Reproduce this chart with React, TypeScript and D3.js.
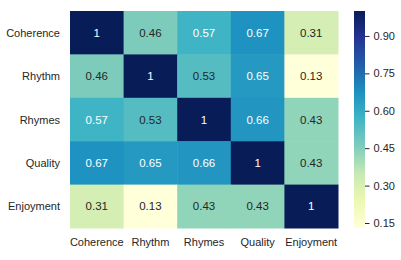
import * as d3 from 'd3';
import React, { useRef, useEffect } from 'react';

const labels = ['Coherence', 'Rhythm', 'Rhymes', 'Quality', 'Enjoyment'];
const coherence = [1, 0.46, 0.57, 0.67, 0.31];
const rhythm = [0.46, 1, 0.53, 0.65, 0.13];
const rhymes = [0.57, 0.53, 1, 0.66, 0.43];
const quality = [0.67, 0.65, 0.66, 1, 0.43];
const enjoyment = [0.31, 0.13, 0.43, 0.43, 1];
const barTicks = [0.15, 0.3, 0.45, 0.6, 0.75, 0.9];

// matplotlib YlGnBu stops
const stops = ['#ffffd9', '#edf8b1', '#c7e9b4', '#7fcdbb', '#41b6c4', '#1d91c0', '#225ea8', '#253494', '#081d58'];

const width = 401;
const height = 260;

function Heatmap() {
    const ref = useRef<SVGSVGElement>(null);

    useEffect(() => {
        const svg = d3.select(ref.current);
        svg.selectAll('*').remove();

        const rows = [coherence, rhythm, rhymes, quality, enjoyment];
        const vmin = 0.13, vmax = 1;
        const left = 70, top = 11, right = 338, bottom = 228;
        const font = 'Liberation Sans, Arial, sans-serif';
        const textColor = '#262626';

        const x = d3.scaleBand().domain(labels).range([left, right]);
        const y = d3.scaleBand().domain(labels).range([top, bottom]);
        const t = d3.scaleLinear().domain([vmin, vmax]).range([0, 1]).clamp(true);
        const ramp = d3.scaleLinear<string>()
            .domain(d3.range(stops.length).map(i => i / (stops.length - 1)))
            .range(stops)
            .interpolate(d3.interpolateRgb);
        const color = (v: number) => ramp(t(v));

        // relative luminance, same rule seaborn uses to pick annotation colour
        const lum = (c: string) => {
            const rgb = d3.rgb(c);
            const f = (u: number) => {
                u = u / 255;
                return u <= 0.03928 ? u / 12.92 : Math.pow((u + 0.055) / 1.055, 2.4);
            };
            return 0.2126 * f(rgb.r) + 0.7152 * f(rgb.g) + 0.0722 * f(rgb.b);
        };

        const cells = rows.flatMap((r, i) => r.map((v, j) => ({ row: labels[i], col: labels[j], v })));

        svg.append('g').selectAll('rect')
            .data(cells)
            .enter()
            .append('rect')
            .attr('x', d => x(d.col)!)
            .attr('y', d => y(d.row)!)
            .attr('width', x.bandwidth() + 0.5)
            .attr('height', y.bandwidth() + 0.5)
            .attr('fill', d => color(d.v));

        svg.append('g').selectAll('text')
            .data(cells)
            .enter()
            .append('text')
            .attr('x', d => x(d.col)! + x.bandwidth() / 2)
            .attr('y', d => y(d.row)! + y.bandwidth() / 2)
            .attr('text-anchor', 'middle')
            .attr('dominant-baseline', 'central')
            .attr('font-family', font)
            .attr('font-size', 11.5)
            .attr('fill', d => (lum(color(d.v)) > 0.408 ? textColor : '#ffffff'))
            .text(d => d3.format('.2~g')(d.v));

        // row labels
        svg.append('g').selectAll('text')
            .data(labels)
            .enter()
            .append('text')
            .attr('x', left - 10)
            .attr('y', d => y(d)! + y.bandwidth() / 2)
            .attr('text-anchor', 'end')
            .attr('dominant-baseline', 'central')
            .attr('font-family', font)
            .attr('font-size', 11)
            .attr('fill', textColor)
            .text(d => d);

        // column labels
        svg.append('g').selectAll('text')
            .data(labels)
            .enter()
            .append('text')
            .attr('x', d => x(d)! + x.bandwidth() / 2)
            .attr('y', bottom + 14)
            .attr('text-anchor', 'middle')
            .attr('dominant-baseline', 'central')
            .attr('font-family', font)
            .attr('font-size', 11)
            .attr('fill', textColor)
            .text(d => d);

        // colorbar
        const cbx = 354, cbw = 11;
        const cy = d3.scaleLinear().domain([vmin, vmax]).range([bottom, top]);
        const defs = svg.append('defs');
        const grad = defs.append('linearGradient')
            .attr('id', 'cbgrad')
            .attr('x1', 0).attr('y1', 1).attr('x2', 0).attr('y2', 0);
        stops.forEach((s, i) => {
            grad.append('stop')
                .attr('offset', i / (stops.length - 1))
                .attr('stop-color', s);
        });
        svg.append('rect')
            .attr('x', cbx)
            .attr('y', top)
            .attr('width', cbw)
            .attr('height', bottom - top)
            .attr('fill', 'url(#cbgrad)');

        const axis = svg.append('g')
            .attr('transform', `translate(${cbx + cbw},0)`)
            .call(d3.axisRight(cy).tickValues(barTicks).tickFormat(d3.format('.2f')).tickSize(4.5).tickPadding(4));
        axis.select('.domain').remove();
        axis.selectAll('line').attr('stroke', textColor).attr('stroke-width', 1);
        axis.selectAll('text')
            .attr('font-family', font)
            .attr('font-size', 11)
            .attr('fill', textColor);
    }, []);

    return (
        <svg ref={ref} width={width} height={height}
            style={{ position: 'absolute', left: 0, top: 0, background: '#ffffff' }} />
    );
}

export default function App() {
    return <Heatmap />;
}
